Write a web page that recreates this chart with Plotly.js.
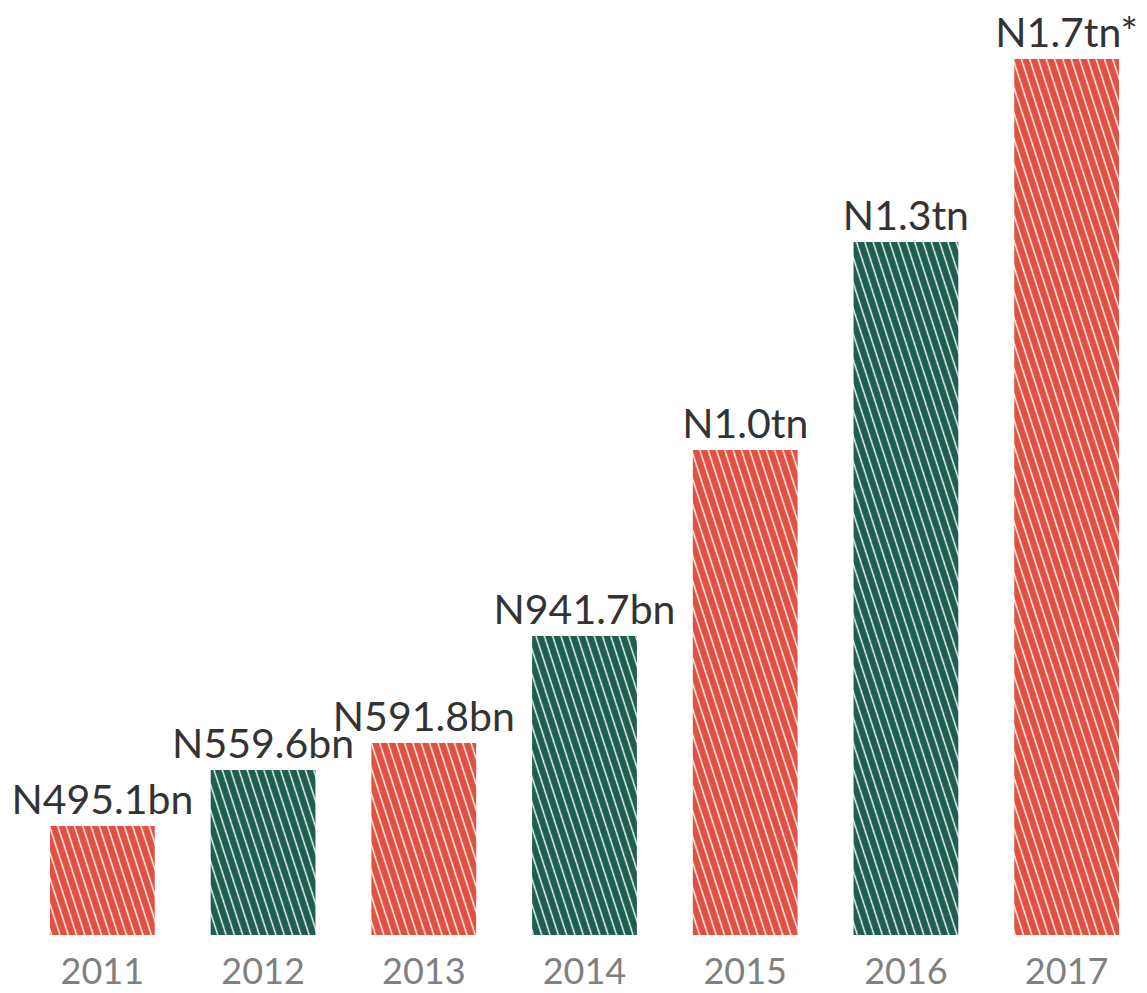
<!DOCTYPE html>
<html><head><meta charset="utf-8">
<script src="https://cdn.plot.ly/plotly-3.0.1.min.js"></script>
<style>html,body{margin:0;padding:0;background:#fff}</style>
</head><body>
<div id="chart" style="width:1147px;height:993px"></div>
<script>
// Years on the x axis
const years = ['2011', '2012', '2013', '2014', '2015', '2016', '2017'];
// Drawn bar heights (chart units, not to a linear money scale)
const barHeights = [109, 165, 192, 299, 485, 693, 876];
// Value labels printed above the bars
const valueLabels = ['N495.1bn', 'N559.6bn', 'N591.8bn', 'N941.7bn', 'N1.0tn', 'N1.3tn', 'N1.7tn*'];
// Alternating bar colours
const barColors = ['#E05142', '#1E5E50', '#E05142', '#1E5E50', '#E05142', '#1E5E50', '#E05142'];

const FONT = 'Lato, "Open Sans", sans-serif';

const trace = {
  type: 'bar',
  x: years,
  y: barHeights,
  text: valueLabels,
  textposition: 'outside',
  constraintext: 'none',
  cliponaxis: false,
  textfont: {family: FONT, size: 41, color: '#333333'},
  hoverinfo: 'none',
  marker: {
    color: barColors,
    line: {width: 0},
    pattern: {
      shape: '\\',
      fillmode: 'overlay',
      fgcolor: '#e6e6e6',
      fgopacity: 1,
      size: 7.9,
      solidity: 0.17
    }
  }
};

const layout = {
  width: 1147,
  height: 993,
  margin: {l: 22, r: 0, t: 0, b: 58},
  paper_bgcolor: '#ffffff',
  plot_bgcolor: '#ffffff',
  showlegend: false,
  bargap: 0.348,
  xaxis: {
    type: 'category',
    showgrid: false,
    showline: false,
    zeroline: false,
    ticks: '',
    ticklabelstandoff: 12,
    tickfont: {family: FONT, size: 36, color: '#808080'}
  },
  yaxis: {
    visible: false,
    range: [0, 935],
    showgrid: false,
    zeroline: false
  }
};

Plotly.newPlot('chart', [trace], layout, {staticPlot: true, displayModeBar: false}).then(function (gd) {
  // steepen the diagonal stripes to match the reference
  gd.querySelectorAll('pattern').forEach(function (p) {
    p.setAttribute('patternTransform', 'rotate(27)');
  });
});
</script>
</body></html>
